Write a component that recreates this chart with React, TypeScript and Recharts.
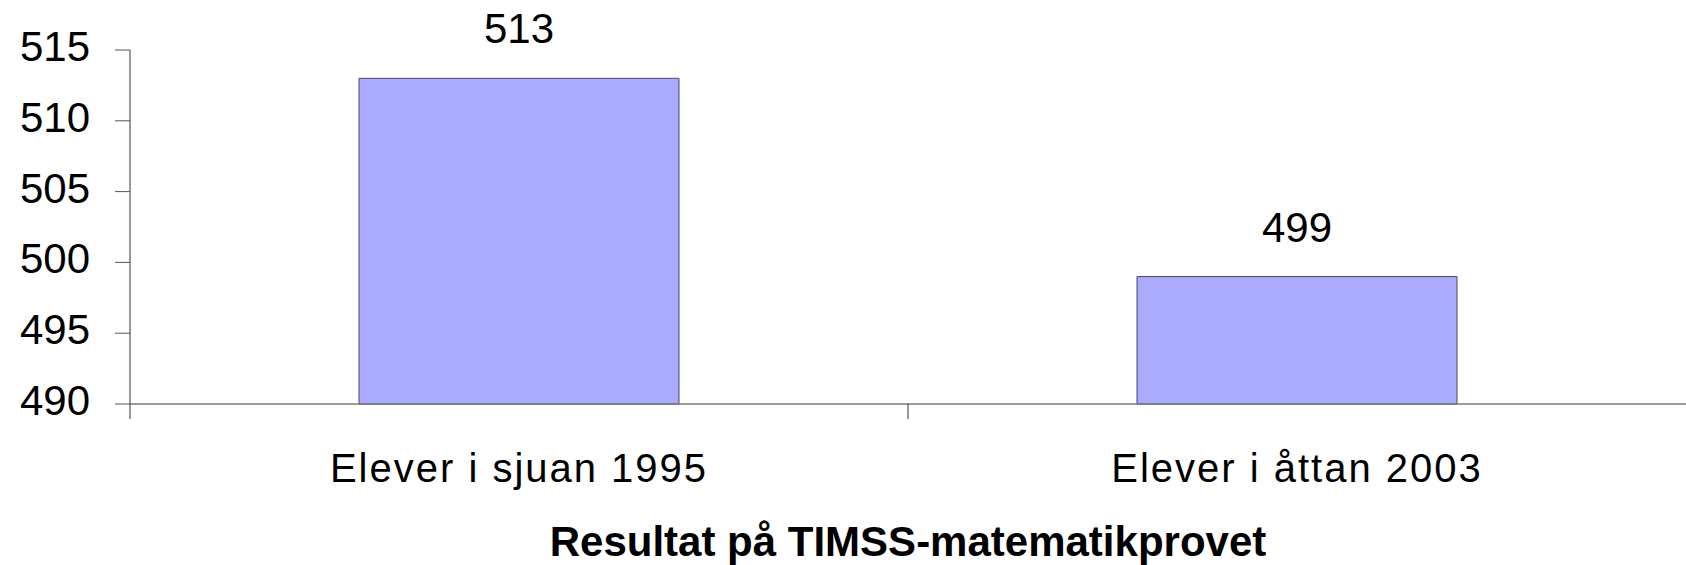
import { BarChart, Bar, XAxis, YAxis, LabelList } from 'recharts'

const categories = ['Elever i sjuan 1995', 'Elever i åttan 2003']
const scores = [513, 499]
const yTicks = [490, 495, 500, 505, 510, 515]
const title = 'Resultat på TIMSS-matematikprovet'

const data = categories.map((name, i) => ({ name, score: scores[i] }))

const FONT = '"Liberation Sans", Arial, sans-serif'
const AXIS = '#7a7a7a'
const CHART_W = 1686
const Y_AXIS_W = 130
const X_TICK_MARGIN = 50
// half of one category band; the original puts its x ticks on band edges
const HALF_BAND = (CHART_W - Y_AXIS_W) / categories.length / 2

function CategoryTick(props: any) {
  const { x, y, payload } = props
  const axisY = y - X_TICK_MARGIN
  return (
    <g>
      <line x1={x - HALF_BAND} x2={x - HALF_BAND} y1={axisY} y2={axisY + 15} stroke="#333" />
      <text x={x} y={y} dy={28} textAnchor="middle" fontSize={40} fill="#000" letterSpacing={2}>
        {payload.value}
      </text>
    </g>
  )
}

export default function App() {
  return (
    <div style={{ position: 'absolute', left: 0, top: 0, background: '#fff' }}>
      <BarChart
        width={CHART_W}
        height={565}
        data={data}
        margin={{ top: 50, right: 0, bottom: 0, left: 0 }}
        style={{ fontFamily: FONT }}
      >
        <XAxis
          dataKey="name"
          height={161}
          tickLine={false}
          tickSize={0}
          tickMargin={X_TICK_MARGIN}
          axisLine={{ stroke: AXIS, strokeWidth: 1.5 }}
          tick={<CategoryTick />}
          label={{
            value: title,
            position: 'insideBottom',
            offset: 9,
            style: { fontSize: 42, fontWeight: 'bold', fill: '#000' },
          }}
        />
        <YAxis
          width={Y_AXIS_W}
          domain={[490, 515]}
          ticks={yTicks}
          interval={0}
          tickSize={15}
          tickMargin={25}
          axisLine={{ stroke: AXIS, strokeWidth: 1.5 }}
          tickLine={{ stroke: '#555', strokeWidth: 1 }}
          tick={{ fontSize: 42, fill: '#000', dy: -4 }}
        />
        <Bar
          dataKey="score"
          fill="#aaaaff"
          stroke="#4a4a66"
          strokeWidth={1}
          barSize={320}
          isAnimationActive={false}
        >
          <LabelList dataKey="score" position="top" offset={35} style={{ fontSize: 42, fill: '#000' }} />
        </Bar>
      </BarChart>
    </div>
  )
}
